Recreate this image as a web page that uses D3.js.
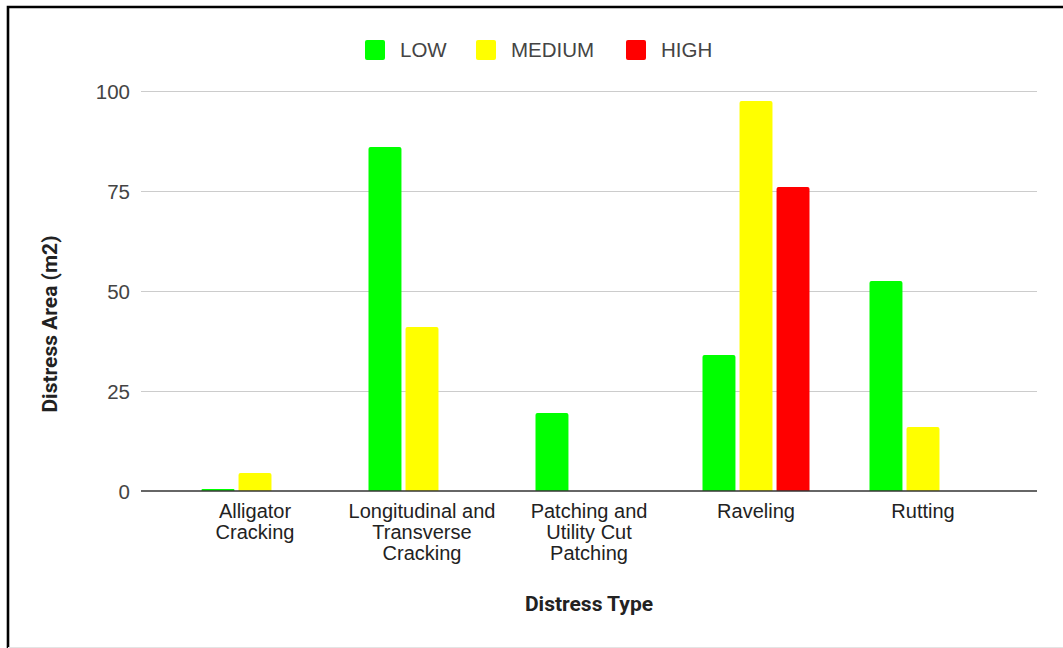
<!DOCTYPE html>
<html>
<head>
<meta charset="utf-8">
<script src="https://cdn.jsdelivr.net/npm/d3@7"></script>
<style>
  html, body { margin: 0; padding: 0; background: #fff; }
  svg { display: block; }
</style>
</head>
<body>
<svg id="chart" width="1063" height="648"></svg>
<script>
// Distress types and severity areas (m2)
const categories = [
  ["Alligator", "Cracking"],
  ["Longitudinal and", "Transverse", "Cracking"],
  ["Patching and", "Utility Cut", "Patching"],
  ["Raveling"],
  ["Rutting"]
];
const series = ["LOW", "MEDIUM", "HIGH"];
const lowValues    = [0.5, 86, 19.5, 34, 52.5];
const mediumValues = [4.5, 41, 0, 97.5, 16];
const highValues   = [0, 0, 0, 76, 0];
const yTicks = [0, 25, 50, 75, 100];
const colors = ["#00ff00", "#ffff00", "#ff0000"];

const valuesBySeries = [lowValues, mediumValues, highValues];
const catKeys = categories.map(c => c.join(" "));

const svg = d3.select("#chart");
const W = 1063, H = 648;
const plot = { left: 141, right: 1037, top: 91, bottom: 491 };
const sans = "'Liberation Sans', Arial, sans-serif";

// outer frame
svg.append("rect").attr("x", 0).attr("y", 0).attr("width", W).attr("height", H).attr("fill", "#fff");
svg.append("path")
  .attr("d", `M8,${H} L8,7 L${W},7`)
  .attr("fill", "none").attr("stroke", "#000").attr("stroke-width", 2.6);
svg.append("line")
  .attr("x1", 8).attr("x2", W).attr("y1", H - 0.5).attr("y2", H - 0.5)
  .attr("stroke", "#e4e4e4").attr("stroke-width", 1);

const y = d3.scaleLinear().domain([0, 100]).range([plot.bottom, plot.top]);
const x = d3.scaleBand().domain(catKeys).range([171.5, 1006.5]).padding(0);
const xs = d3.scaleBand().domain(series).range([0, 107]).paddingInner(0.11);

// gridlines
svg.append("g").selectAll("line").data(yTicks.filter(t => t !== 0)).join("line")
  .attr("x1", plot.left).attr("x2", plot.right)
  .attr("y1", d => Math.round(y(d)) + 0.5).attr("y2", d => Math.round(y(d)) + 0.5)
  .attr("stroke", "#cccccc").attr("stroke-width", 1.2);

// y axis labels
const yAxis = d3.axisLeft(y).tickValues(yTicks).tickSize(0).tickPadding(11);
const gy = svg.append("g").attr("transform", `translate(${plot.left},0)`).call(yAxis);
gy.select(".domain").remove();
gy.selectAll("text")
  .attr("font-family", sans)
  .attr("font-size", 20.5).attr("fill", "#444").attr("dy", "0.35em");

// bars with slightly rounded tops
function barPath(x0, w, yTop, yBase) {
  const h = yBase - yTop;
  const r = Math.min(2, h / 2, w / 2);
  return `M${x0},${yBase} L${x0},${yTop + r} Q${x0},${yTop} ${x0 + r},${yTop} ` +
         `L${x0 + w - r},${yTop} Q${x0 + w},${yTop} ${x0 + w},${yTop + r} L${x0 + w},${yBase} Z`;
}
const barData = [];
catKeys.forEach((c, i) => {
  series.forEach((s, j) => {
    const v = valuesBySeries[j][i];
    if (v > 0) barData.push({ cat: c, s, v, color: colors[j] });
  });
});
svg.append("g").selectAll("path").data(barData).join("path")
  .attr("d", d => {
    const x0 = x(d.cat) + x.bandwidth() / 2 - 53.5 + xs(d.s);
    return barPath(x0, xs.bandwidth(), y(d.v), y(0));
  })
  .attr("fill", d => d.color);

// baseline
svg.append("line")
  .attr("x1", plot.left).attr("x2", plot.right)
  .attr("y1", y(0)).attr("y2", y(0))
  .attr("stroke", "#333").attr("stroke-width", 1.6);

// category labels
const xAxis = d3.axisBottom(x).tickSize(0).tickFormat("");
const gx = svg.append("g").attr("transform", `translate(0,${plot.bottom})`).call(xAxis);
gx.select(".domain").remove();
gx.selectAll(".tick").each(function(d, i) {
  const t = d3.select(this).append("text")
    .attr("text-anchor", "middle")
    .attr("font-family", sans)
    .attr("font-size", 20).attr("fill", "#222");
  categories[i].forEach((line, k) => {
    t.append("tspan").attr("x", 0).attr("y", 27 + k * 21).text(line);
  });
});

// axis titles
svg.append("text")
  .attr("x", 589).attr("y", 611)
  .attr("text-anchor", "middle")
  .attr("font-family", "Roboto, 'Liberation Sans', sans-serif")
  .attr("font-weight", "bold").attr("font-size", 21).attr("fill", "#222")
  .text("Distress Type");
svg.append("text")
  .attr("transform", "translate(57,324) rotate(-90)")
  .attr("text-anchor", "middle")
  .attr("font-family", "Roboto, 'Liberation Sans', sans-serif")
  .attr("font-weight", "bold").attr("font-size", 21).attr("fill", "#222")
  .text("Distress Area (m2)");

// legend
const legendX = [365, 476, 626];
const lg = svg.append("g").selectAll("g").data(series).join("g")
  .attr("transform", (d, i) => `translate(${legendX[i]},40)`);
lg.append("rect").attr("width", 20).attr("height", 20).attr("rx", 2)
  .attr("fill", (d, i) => colors[i]);
lg.append("text").attr("x", 35).attr("y", 10).attr("dy", "0.35em")
  .attr("font-family", sans)
  .attr("font-size", 20.5).attr("fill", "#444")
  .text(d => d);
</script>
</body>
</html>
